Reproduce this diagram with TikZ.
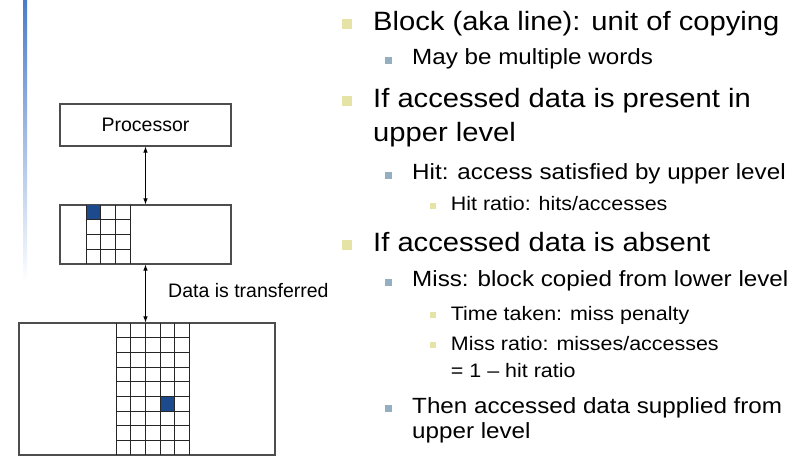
\documentclass[tikz,border=0pt]{standalone}
\usepackage{fontspec}
\setmainfont{Liberation Sans}
\usetikzlibrary{arrows.meta}
\definecolor{cellblue}{HTML}{1C4A8C}
\definecolor{barblue}{HTML}{4A7CCB}
\definecolor{bulyellow}{HTML}{E6E3A6}
\definecolor{bulgrey}{HTML}{95AFC2}
\definecolor{boxgrey}{HTML}{4D4D4D}

\begin{document}
\begin{tikzpicture}[x=1pt,y=-1pt,>={Latex[length=6pt,width=4.5pt]},
    memlevel/.style={draw=boxgrey,line width=1.2pt,inner sep=0pt},
    gridline/.style={line width=0.9pt,draw=black!85},
    lbl/.style={font=\fontsize{19.5}{22}\selectfont,inner sep=0pt},
    itemA/.style={anchor=base west,inner sep=0pt,xscale=1.1,font=\fontsize{26.5}{30}\selectfont},
    itemB/.style={itemA,font=\fontsize{22}{26}\selectfont},
    itemC/.style={itemA,font=\fontsize{19.5}{23}\selectfont},
    bulA/.style={fill=bulyellow,minimum size=10pt,inner sep=0pt},
    bulB/.style={fill=bulgrey,minimum size=7pt,inner sep=0pt},
    bulC/.style={fill=bulyellow,minimum size=6pt,inner sep=0pt}]
  \useasboundingbox (0,0) rectangle (801,457);

  % slide bar
  \shade[top color=barblue,bottom color=white] (23,0) rectangle (27,282);

  % memory hierarchy
  \node[memlevel,minimum width=171pt,minimum height=42pt] (proc) at (145.5,125) {};
  \node[lbl] (proclbl) at (proc) {Processor};
  \node[memlevel,minimum width=171pt,minimum height=59pt] (cache) at (145.5,234.5) {};
  \node[memlevel,minimum width=256pt,minimum height=132pt] (mem) at (147,389) {};

  \fill[cellblue] (86,205) rectangle (100.7,219.8);
  \fill[cellblue] (160,396.3) rectangle (174.7,411);
  \foreach \i in {0,...,3}
    \draw[gridline] (86+\i*14.67,205) -- (86+\i*14.67,264);
  \foreach \j in {1,...,3}
    \draw[gridline] (86,205+\j*14.75) -- (130,205+\j*14.75);
  \foreach \i in {0,...,5}
    \draw[gridline] (116+\i*14.7,323) -- (116+\i*14.7,455);
  \foreach \j in {1,...,8}
    \draw[gridline] (116,323+\j*14.67) -- (189.5,323+\j*14.67);

  \draw[<->,line width=0.8pt] (proc.south) -- (cache.north);
  \draw[<->,line width=0.8pt] (cache.south) -- (cache.south |- mem.north);
  \node[lbl,anchor=base west] (xfer) at (168,297.7) {Data is transferred};

  % bullets
  \node[bulA] (b1) at (346.5,24.5) {};
  \node[bulB] (b2) at (388.7,60.5) {};
  \node[bulA] (b3) at (346.5,101.5) {};
  \node[bulB] (b4) at (388.7,175.5) {};
  \node[bulC] (b5) at (432.5,206) {};
  \node[bulA] (b6) at (346.5,245.5) {};
  \node[bulB] (b7) at (388.7,282.5) {};
  \node[bulC] (b8) at (432.5,315.3) {};
  \node[bulC] (b9) at (432.5,345.3) {};
  \node[bulB] (b10) at (388.7,408.5) {};

  \node[itemA] (block) at (373,31) {Block (aka line): unit of copying};
  \node[itemB] (words) at (412,65) {May be multiple words};
  \node[itemA] (present) at (373,108) {If accessed data is present in};
  \node[itemA] (presentb) at (373,142) {upper level};
  \node[itemB] (hit) at (412,180) {Hit: access satisfied by upper level};
  \node[itemC] (hitratio) at (450.7,210.7) {Hit ratio: hits/accesses};
  \node[itemA] (absent) at (373,252) {If accessed data is absent};
  \node[itemB] (miss) at (412,287) {Miss: block copied from lower level};
  \node[itemC] (penalty) at (450.7,320) {Time taken: miss penalty};
  \node[itemC] (missratio) at (450.7,350) {Miss ratio: misses/accesses};
  \node[itemC] (missratiob) at (450.7,377) {= 1 – hit ratio};
  \node[itemB] (supply) at (412,413) {Then accessed data supplied from};
  \node[itemB] (supplyb) at (412,438) {upper level};
\end{tikzpicture}
\end{document}
